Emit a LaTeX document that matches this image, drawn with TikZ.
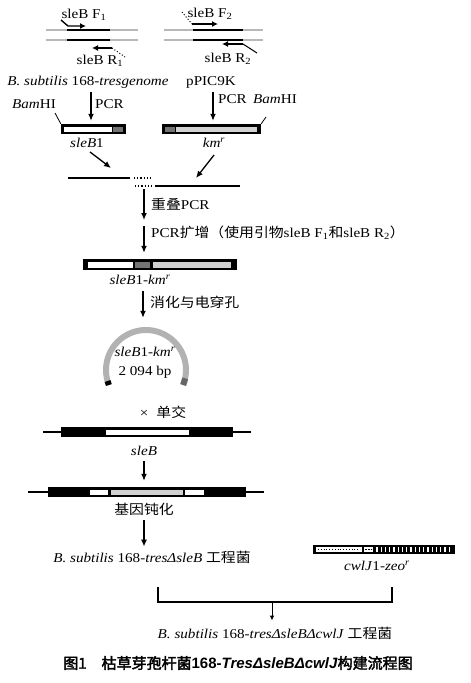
\documentclass[tikz,border=0pt]{standalone}
\usepackage{fontspec}
\setmainfont[FakeStretch=1.12]{Liberation Serif}
\newfontfamily\cjk[FakeStretch=1.1]{Noto Sans CJK SC}
\newfontfamily\cjkbf[FakeBold=2.5]{Noto Sans CJK SC}
\newfontfamily\capsf{Liberation Sans}
\usetikzlibrary{arrows.meta,calc,positioning}
\newcommand{\kmr}{\textit{km}\textsuperscript{\textit{r}}}

\begin{document}
\begin{tikzpicture}[x=1pt,y=-1pt,
  lbl/.style={font=\fontsize{13.5}{15}\selectfont,inner sep=1pt},
  arr/.style={-{Latex[length=7pt,width=6pt]},line width=1.3pt},
  tinyarr/.style={-{Latex[length=5pt,width=4.5pt]},line width=0.9pt},
  primer/.style={-{Latex[length=6pt,width=6pt]},line width=1.4pt},
  strand/.style={line width=2pt,black!28},
  dna/.style={line width=1.2pt},
  gene/.style={fill=black,inner sep=0pt,minimum height=10pt}
]
\useasboundingbox (0,0) rectangle (471,683);

% primers on the two templates
\draw[strand] (46,30) -- (138,30) (46,40) -- (138,40);
\draw[line width=2.5pt] (67,30) -- (110,30) (67,40) -- (110,40);
\draw[primer] (61,20) -- (68,26) -- (86,26);
\draw[primer] (112,48) -- (92,48);
\draw[dotted,line width=1pt] (112,48) -- (125,57);
\node[lbl] (f1) at (84,15) {sleB F\textsubscript{1}};
\node[lbl] (r1) at (100,61) {sleB R\textsubscript{1}};

\draw[strand] (164,30) -- (263,30) (164,40) -- (263,40);
\draw[line width=2.5pt] (193,30) -- (243,30) (193,40) -- (243,40);
\draw[dotted,line width=1pt] (182,12) -- (192,24);
\draw[primer] (192,24) -- (218,24);
\draw[primer] (243,44) -- (222,44);
\draw[line width=1pt] (243,44) -- (257,53);
\node[lbl] (f2) at (210,14) {sleB F\textsubscript{2}};
\node[lbl] (r2) at (228,59) {sleB R\textsubscript{2}};

\node[lbl] (genome) at (88,82) {\textit{B. subtilis} 168-\textit{tresgenome}};
\node[lbl] (ppic) at (211,82) {pPIC9K};
\node[lbl] (bam1) at (34,104) {\textit{Bam}HI};
\node[lbl,anchor=west] (pcr1) at (94,104) {PCR};
\node[lbl,anchor=west] (pcr2) at (217,99) {PCR};
\node[lbl] (bam2) at (275,99) {\textit{Bam}HI};

% PCR products
\node[gene,minimum width=65pt] (sleb) at (93.5,129) {};
\fill[white] (64,126.5) rectangle (112,131.5);
\fill[black!55] (113,126.5) rectangle (123,131.5);
\node[gene,minimum width=99pt] (km) at (211.5,129) {};
\fill[black!55] (165,126.5) rectangle (175,131.5);
\fill[black!18] (176,126.5) rectangle (257,131.5);
\draw[line width=0.8pt] (55,113) -- (sleb.north west);
\draw[line width=0.8pt] (km.north east) -- (266,117);
\coordinate (p1) at (91,92);
\coordinate (p2) at (213,92);
\draw[arr,shorten >=3pt] (p1) -- (p1 |- sleb.north);
\draw[arr,shorten >=3pt] (p2) -- (p2 |- km.north);
\node[lbl] (slebl) at (87,143) {\textit{sleB}1};
\node[lbl] (kml) at (214,143) {\kmr};

% overlap
\draw[dna] (68,178) -- (130,178);
\draw[dna,dotted] (134,178) -- (151,178);
\draw[dna,dotted] (135,186) -- (152,186);
\draw[dna] (155,186) -- (240,186);
\coordinate (jL) at (111,168);
\coordinate (jR) at (196,178);
\draw[arr] ([shift={(3,3)}]slebl.south) -- (jL);
\draw[arr] ([shift={(0,6)}]kml.south) -- (jR);

\coordinate (s1) at (144,189);
\coordinate (s2) at (144,220);
\coordinate (s3) at (144,226);
\draw[arr] (s1) -- (s2);
\node[lbl,anchor=west] (ovl) at (150,204) {{\cjk 重叠}PCR};
\node[gene,minimum width=154pt,minimum height=11pt] (fus) at (160,264.5) {};
\fill[white] (88,261.5) rectangle (133,267.5);
\fill[black!55] (135,261.5) rectangle (150,267.5);
\fill[black!18] (153,261.5) rectangle (231,267.5);
\draw[arr,shorten >=6pt] (s3) -- (s3 |- fus.north);
\node[lbl,anchor=west] (amp) at (150,233) {PCR{\cjk 扩增（使用引物}sleB F\textsubscript{1}{\cjk 和}sleB R\textsubscript{2}{\cjk ）}};
\node[lbl] (fusl) at (140,280) {\textit{sleB}1-\kmr};

% plasmid
\node[circle,minimum size=90pt,inner sep=0pt] (plas) at (146,370) {};
\coordinate (s4) at (143,291);
\draw[arr,shorten >=7pt] (s4) -- (s4 |- plas.north);
\node[lbl,anchor=west] (dig) at (149,302) {\cjk 消化与电穿孔};
\begin{scope}[shift={(plas.center)},y=1pt]
  \draw[black!30,line width=6pt] (-22:40) arc[start angle=-22,end angle=202,radius=40];
  \draw[black,line width=6pt] (196:40) arc[start angle=196,end angle=202,radius=40];
  \draw[black!60,line width=6pt] (-22:40) arc[start angle=-22,end angle=-12,radius=40];
\end{scope}
\node[lbl] (plasn) at (145,352) {\textit{sleB}1-\kmr};
\node[lbl] (plasbp) at (145,372) {2 094 bp};
\node[lbl] (cross) at (163,412) {×\hspace{8pt}{\cjk 单交}};

% integration and knockout
\draw[dna] (43,432) -- (251,432);
\node[gene,minimum width=172pt] (rec) at (147,432) {};
\fill[white] (106,429.5) rectangle (189,434.5);
\node[lbl] (recl) at (144,451) {\textit{sleB}};
\draw[dna] (28,492) -- (264,492);
\node[gene,minimum width=198pt] (ko) at (147,492) {};
\fill[white] (90,489.5) rectangle (108,494.5);
\fill[black!18] (111,489.5) rectangle (183,494.5);
\fill[white] (185,489.5) rectangle (204,494.5);
\draw[arr,shorten <=4pt,shorten >=6pt] (recl.south) -- (recl.south |- ko.north);
\node[lbl] (kol) at (144,509) {\cjk 基因钝化};
\node[lbl] (st1) at (152,557) {\textit{B. subtilis} 168-\textit{tresΔsleB} {\cjk 工程菌}};
\draw[arr,shorten <=4pt,shorten >=3pt] (kol.south) -- (kol.south |- st1.north);

% cwlJ cassette
\node[gene,minimum width=142pt,minimum height=9pt] (cwl) at (384,549.5) {};
\fill[white] (316,547) rectangle (362,552);
\draw[dotted,line width=0.8pt] (318,549.5) -- (360,549.5);
\fill[white] (364,547) rectangle (373,552);
\draw[densely dotted] (365,549.5) -- (372,549.5);
\foreach \i in {0,...,17}
  \draw[white,line width=1.3pt] ({377+4.25*\i},547) -- ++(0,5);
\node[lbl] (cwll) at (377,566) {\textit{cwlJ}1-\textit{zeo}\textsuperscript{\textit{r}}};

\coordinate (brL) at (158,587);
\coordinate (brR) at (392,587);
\coordinate (brM) at (272,602);
\draw[dna,line width=1.4pt] (brL) -- (brL |- brM) -- (brR |- brM) -- (brR);
\node[lbl] (fin) at (275,633) {\textit{B. subtilis} 168-\textit{tresΔsleBΔcwlJ} {\cjk 工程菌}};
\draw[tinyarr,shorten >=5pt] (brM) -- (brM |- fin.north);

\node[inner sep=0pt,font=\fontsize{15}{17}\selectfont] (cap) at (238,663)
  {{\cjkbf 图1\hspace{1em}枯草芽孢杆菌}{\capsf\bfseries 168-\textit{TresΔsleBΔcwlJ}}{\cjkbf 构建流程图}};
\end{tikzpicture}
\end{document}
